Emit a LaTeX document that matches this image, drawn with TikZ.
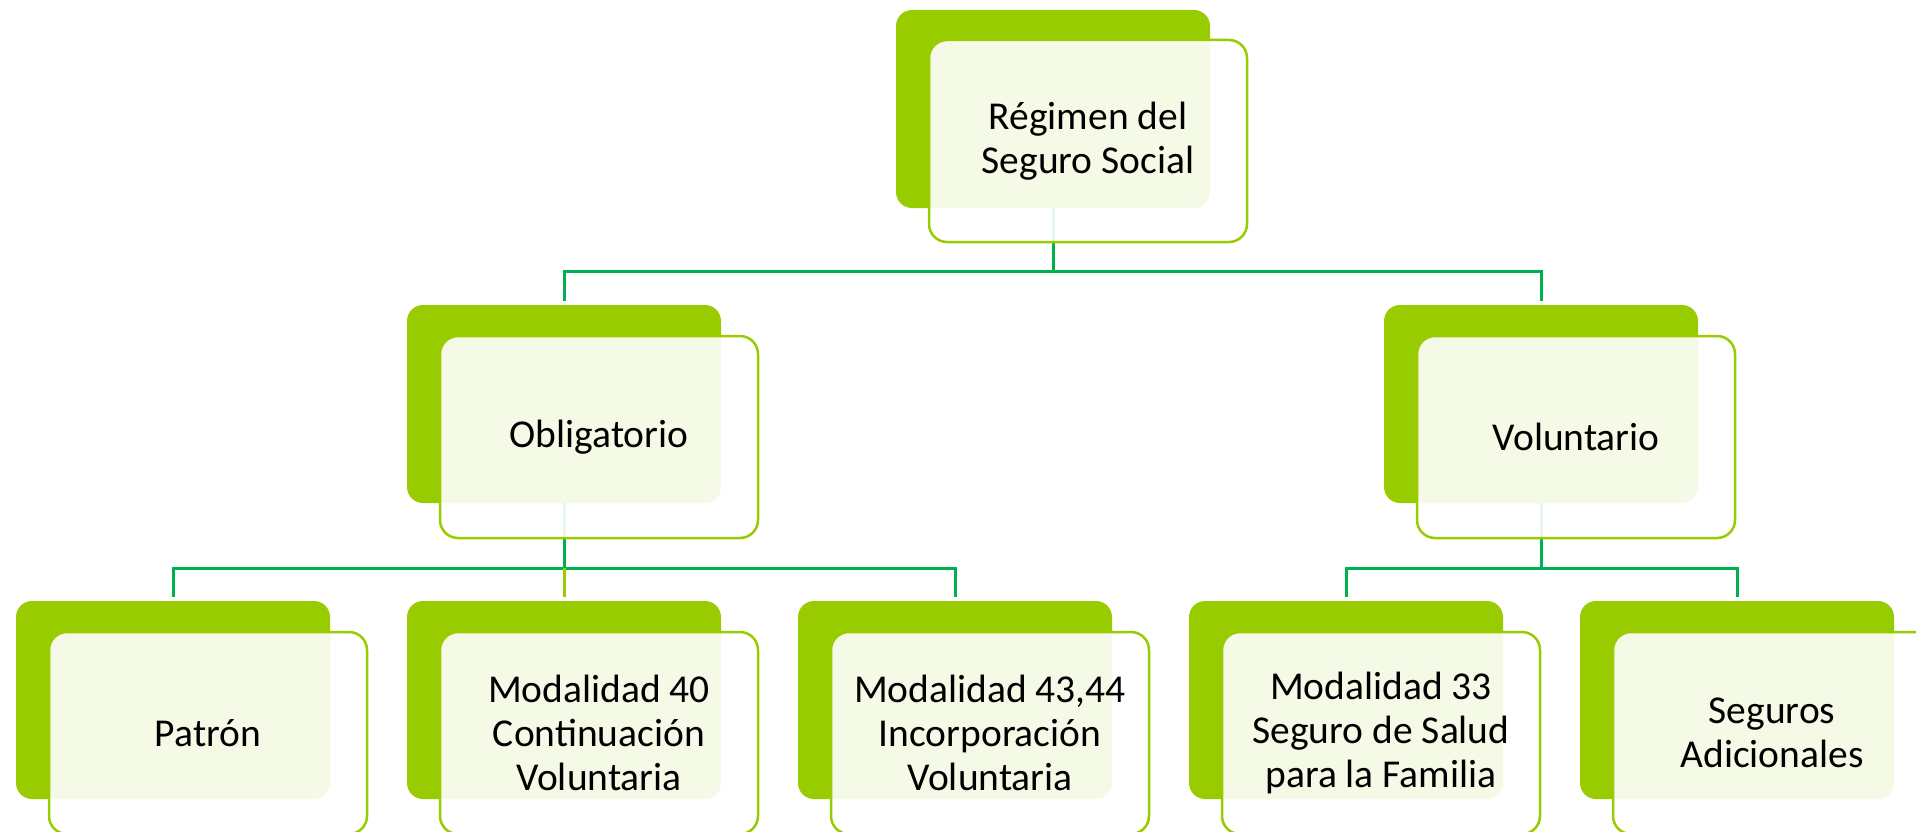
\documentclass[tikz,border=0pt]{standalone}
\usepackage{fontspec}
\setmainfont{Carlito}
\usetikzlibrary{backgrounds}
\definecolor{sgLime}{HTML}{99CC00}
\definecolor{sgConn}{HTML}{00B050}
\tikzset{
  backbox/.style={fill=sgLime, rounded corners=16pt, minimum width=314pt, minimum height=198pt, inner sep=0pt},
  frontbox/.style={draw=sgLime, line width=2.5pt, fill=white, fill opacity=0.9, text opacity=1,
    rounded corners=18pt, minimum width=318pt, minimum height=202pt, inner sep=0pt, align=center,
    font=\fontsize{39.5}{44}\selectfont, text=black},
  conn/.style={draw=sgConn, line width=3pt},
  connlime/.style={draw=sgLime, line width=3pt},
}
\begin{document}
\begin{tikzpicture}[x=1pt,y=-1pt]
\useasboundingbox (0,0) rectangle (1916,832);
\clip (0,0) rectangle (1916,832);
% top
\node[backbox] (topg) at (1053,109) {};
\node[frontbox] (topf) at (1088,141) {Régimen del\\Seguro Social};
% middle
\node[backbox] (obg) at (564,404) {};
\node[frontbox] (obf) at (599,437) {Obligatorio};
\node[backbox] (vog) at (1541,404) {};
\node[frontbox] (vof) at (1576,437) {Voluntario};
% bottom
\node[backbox] (pag) at (173,700) {};
\node[frontbox] (paf) at (208,733) {Patrón};
\node[backbox] (m40g) at (564,700) {};
\node[frontbox] (m40f) at (599,733) {Modalidad 40\\Continuación\\Voluntaria};
\node[backbox] (m43g) at (955,700) {};
\node[frontbox] (m43f) at (990,733) {Modalidad 43,44\\Incorporación\\Voluntaria};
\node[backbox] (m33g) at (1346,700) {};
\node[frontbox] (m33f) at (1381,733) {Modalidad 33\\Seguro de Salud\\para la Familia};
\node[backbox] (seg) at (1737,700) {};
\node[frontbox] (sef) at (1772,733) {Seguros\\Adicionales};
% connectors
\begin{scope}[on background layer]
  \draw[conn] (topg.south) -- ++(0,63) coordinate (h1) -| ([yshift=4pt]obg.north);
  \draw[conn] (h1) -| ([yshift=4pt]vog.north);
  \draw[conn] (obg.south) -- ++(0,65) coordinate (h2) -| ([yshift=4pt]pag.north);
  \draw[conn] (h2) -| ([yshift=4pt]m43g.north);
  \draw[connlime] (h2) -- ([yshift=4pt]m40g.north);
  \draw[conn] (vog.south) -- ++(0,65) coordinate (h3) -| ([yshift=4pt]m33g.north);
  \draw[conn] (h3) -| ([yshift=4pt]seg.north);
\end{scope}
\end{tikzpicture}
\end{document}
